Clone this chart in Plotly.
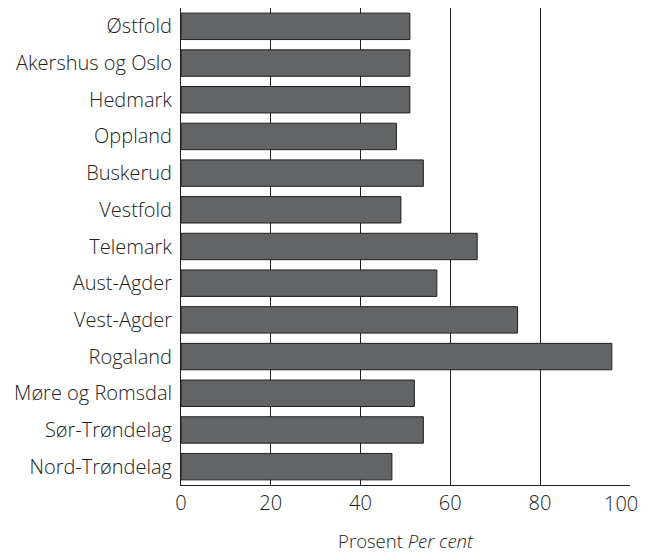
import plotly.graph_objects as go

regions = ["Østfold", "Akershus og Oslo", "Hedmark", "Oppland", "Buskerud",
           "Vestfold", "Telemark", "Aust-Agder", "Vest-Agder", "Rogaland",
           "Møre og Romsdal", "Sør-Trøndelag", "Nord-Trøndelag"]
percent = [51, 51, 51, 48, 54, 49, 66, 57, 75, 96, 52, 54, 47]
x_ticks = [0, 20, 40, 60, 80, 100]

fig = go.Figure()
fig.add_trace(go.Bar(
    x=percent,
    y=regions,
    orientation='h',
    marker=dict(color='#636466', line=dict(color='#1e1e1e', width=1)),
    showlegend=False
))

# last tick label drawn as an annotation so it is not cut at the right edge
fig.add_annotation(
    x=x_ticks[-1], y=0, xref='x', yref='paper',
    text=str(x_ticks[-1]), showarrow=False,
    xanchor='right', yanchor='top', xshift=10, yshift=-3,
    font=dict(size=20)
)

# the page body adds 8px around the figure, so the figure is 8px smaller
fig.update_layout(
    width=640,
    height=545,
    margin=dict(l=173, r=18, t=0, b=68, autoexpand=False),
    paper_bgcolor='white',
    plot_bgcolor='white',
    bargap=0.28,
    font=dict(family='Open Sans, Noto Sans, sans-serif', size=20,
              color='#222222', weight=300),
    xaxis=dict(
        range=[0, 100.05],
        tickvals=x_ticks,
        ticktext=[str(v) for v in x_ticks[:-1]] + [''],
        showgrid=True,
        gridcolor='#1e1e1e',
        gridwidth=1,
        zeroline=False,
        showline=True,
        linecolor='#1e1e1e',
        linewidth=1,
        ticks='',
        automargin=False,
        title=dict(text='Prosent <i>Per cent</i>', standoff=23,
                   font=dict(size=18.5)),
        fixedrange=True
    ),
    yaxis=dict(
        categoryorder='array',
        categoryarray=regions[::-1],
        showgrid=False,
        zeroline=False,
        showline=True,
        linecolor='#1e1e1e',
        linewidth=1,
        ticks='',
        automargin=False,
        ticklabelstandoff=4,
        fixedrange=True
    )
)

fig.write_html("out.html")
